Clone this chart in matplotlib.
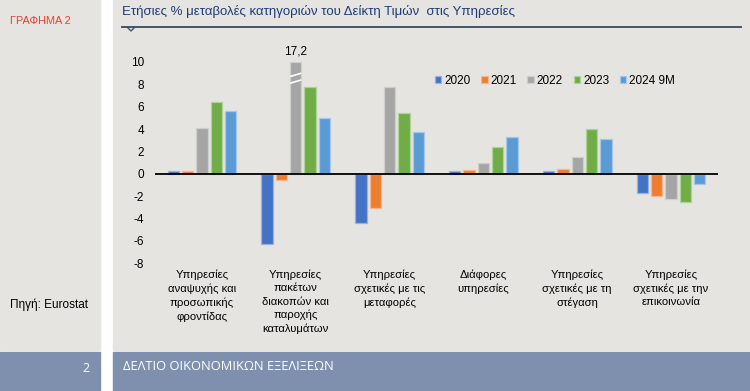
import matplotlib
matplotlib.use("Agg")
import matplotlib.pyplot as plt
from matplotlib.patches import Rectangle
import matplotlib.colors as mcolors
import numpy as np

plt.rcParams["font.family"] = ["Liberation Sans", "DejaVu Sans"]

# Data
categories = [
    "Υπηρεσίες\nαναψυχής και\nπροσωπικής\nφροντίδας",
    "Υπηρεσίες\nπακέτων\nδιακοπών και\nπαροχής\nκαταλυμάτων",
    "Υπηρεσίες\nσχετικές με τις\nμεταφορές",
    "Διάφορες\nυπηρεσίες",
    "Υπηρεσίες\nσχετικές με τη\nστέγαση",
    "Υπηρεσίες\nσχετικές με την\nεπικοινωνία",
]
series_names = ["2020", "2021", "2022", "2023", "2024 9M"]
v2020 = [0.2, -6.3, -4.4, 0.2, 0.2, -1.7]
v2021 = [0.2, -0.6, -3.1, 0.3, 0.4, -2.0]
v2022 = [4.1, 17.2, 7.8, 1.0, 1.5, -2.3]
v2023 = [6.4, 7.8, 5.4, 2.4, 4.0, -2.5]
v2024 = [5.6, 5.0, 3.7, 3.3, 3.1, -0.9]
colors = ["#4472C4", "#ED7D31", "#A5A5A5", "#70AD47", "#5B9BD5"]
y_max = 10
y_ticks = list(range(-8, 11, 2))

bg = "#e5e4e0"
band = "#7f8fae"

fig = plt.figure(figsize=(7.5, 3.91), dpi=100)
fig.patch.set_facecolor("white")

W, H = 750.0, 391.0
def fx(px):
    return px / W
def fy(py):
    return 1 - py / H

# panels behind everything
for (x0, y0, w, h, c) in [(0, 0, 100, 350, bg), (113, 0, 637, 350, bg),
                          (0, 352, 100, 39, band), (113, 352, 637, 39, band)]:
    fig.patches.append(Rectangle((fx(x0), fy(y0 + h)), fx(w), h / H,
                                 transform=fig.transFigure, color=c, zorder=-10))

# texts
fig.text(fx(10), fy(21), "ΓΡΑΦΗΜΑ 2", color="#e8412c", fontsize=7.8, va="center", ha="left")
fig.text(fx(10), fy(305), "Πηγή: Eurostat", color="black", fontsize=8.5, va="center", ha="left")
fig.text(fx(90), fy(368), "2", color="white", fontsize=9, va="center", ha="right",
         family=["Open Sans", "DejaVu Sans"])
fig.text(fx(123), fy(367), "ΔΕΛΤΙΟ ΟΙΚΟΝΟΜΙΚΩΝ ΕΞΕΛΙΞΕΩΝ", color="white", fontsize=9.3,
         va="center", ha="left", family=["Open Sans", "DejaVu Sans"])
fig.text(fx(122), fy(11), "Ετήσιες % μεταβολές κατηγοριών του Δείκτη Τιμών  στις Υπηρεσίες",
         color="#1f3c74", fontsize=9.5, va="center", ha="left")

# title rule with notch
line_y = fy(27)
fig.add_artist(plt.Line2D([fx(122), fx(741)], [line_y, line_y], transform=fig.transFigure,
                          color="#44546a", lw=1.4))
fig.add_artist(plt.Line2D([fx(127), fx(131), fx(135)], [line_y, fy(31), line_y],
                          transform=fig.transFigure, color="#44546a", lw=1.0))

ax = fig.add_axes([fx(155), fy(263), fx(718 - 155), (263 - 62) / H])
ax.set_facecolor("none")

all_series = [v2020, v2021, v2022, v2023, v2024]
x = np.arange(len(categories))
slot = 0.153
bw = 0.12
for i, (name, vals, c) in enumerate(zip(series_names, all_series, colors)):
    edge = mcolors.to_hex(0.55 * np.array(mcolors.to_rgb(c)) + 0.45)
    shown = [min(v, y_max) for v in vals]
    ax.bar(x + (i - 2) * slot, shown, width=bw, color=c, edgecolor=edge, linewidth=0.9,
           label=name, zorder=2)
    for xi, v in zip(x, vals):
        if v > y_max:
            bx = xi + (i - 2) * slot
            for yb in (8.25, 8.85):
                ax.plot([bx - bw / 2, bx + bw / 2], [yb - 0.15, yb + 0.15], color="white",
                        lw=1.2, zorder=3, solid_capstyle="butt")
            ax.annotate(f"{v:.1f}".replace(".", ","), (bx, y_max), xytext=(0, 3),
                        textcoords="offset points", ha="center", va="bottom", fontsize=8.5,
                        annotation_clip=False)

ax.axhline(0, color="black", lw=1.3, zorder=4)
ax.set_xlim(-0.5, len(categories) - 0.5)
ax.set_ylim(-8, y_max)
ax.set_yticks(y_ticks)
ax.set_yticklabels([str(t) for t in y_ticks], fontsize=8.5)
ax.tick_params(axis="y", length=0, pad=8)
ax.set_xticks(x)
ax.set_xticklabels(categories, fontsize=8.1, linespacing=1.38, va="top")
ax.tick_params(axis="x", length=0, pad=5)
for s in ax.spines.values():
    s.set_visible(False)

leg = fig.legend(loc="center", bbox_to_anchor=(fx(555), fy(81)), ncol=5, frameon=False,
                 fontsize=8.5, handlelength=0.55, handleheight=0.55, handletextpad=0.25,
                 columnspacing=0.9)

fig.savefig("out.png", dpi=100, facecolor=fig.get_facecolor())
